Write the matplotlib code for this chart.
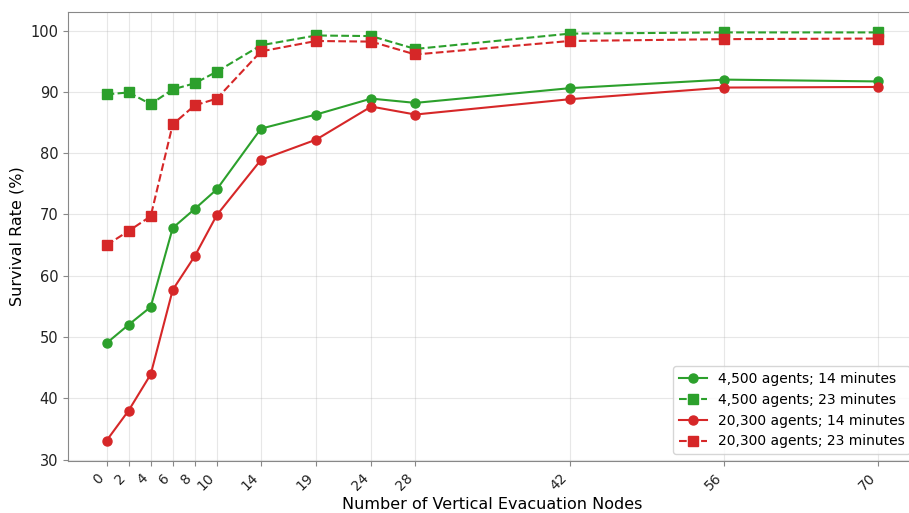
import numpy as np
import matplotlib.pyplot as plt

# number of vertical evacuation nodes
nodes = [0, 2, 4, 6, 8, 10, 14, 19, 24, 28, 42, 56, 70]

# survival rate (%)
s4500_14 = [49.0, 52.0, 54.9, 67.8, 70.9, 74.1, 84.0, 86.3, 88.9, 88.2, 90.6, 92.0, 91.7]
s4500_23 = [89.6, 89.9, 88.0, 90.4, 91.4, 93.3, 97.6, 99.2, 99.1, 97.0, 99.5, 99.7, 99.7]
s20300_14 = [33.1, 38.0, 43.9, 57.7, 63.2, 69.9, 78.9, 82.2, 87.6, 86.3, 88.8, 90.7, 90.8]
s20300_23 = [65.0, 67.3, 69.7, 84.7, 87.8, 88.9, 96.6, 98.3, 98.2, 96.1, 98.3, 98.6, 98.7]

green = '#2ca02c'
red = '#d62728'

fig = plt.figure(figsize=(9.09, 5.13), dpi=100)
ax = fig.add_axes([0.0748, 0.1014, 0.934, 0.8752])

ax.plot(nodes, s4500_14, '-', color=green, marker='o', markersize=6.5, lw=1.5,
        label='4,500 agents; 14 minutes')
ax.plot(nodes, s4500_23, '--', color=green, marker='s', markersize=6.5, lw=1.5,
        label='4,500 agents; 23 minutes')
ax.plot(nodes, s20300_14, '-', color=red, marker='o', markersize=6.5, lw=1.5,
        label='20,300 agents; 14 minutes')
ax.plot(nodes, s20300_23, '--', color=red, marker='s', markersize=6.5, lw=1.5,
        label='20,300 agents; 23 minutes')

ax.set_xticks(nodes)
ax.set_xticklabels([str(n) for n in nodes], rotation=45, ha='right', fontsize=10)
ax.tick_params(axis='y', labelsize=10.5)
ax.tick_params(colors='#888888', labelcolor='#222222')
for sp in ax.spines.values():
    sp.set_color('#888888')

ax.set_xlabel('Number of Vertical Evacuation Nodes', fontsize=11.5, labelpad=3)
ax.set_ylabel('Survival Rate (%)', fontsize=11.5)
ax.grid(True, alpha=0.3)
ax.legend(loc='lower right', fontsize=10)

fig.savefig('out.png', dpi=100)
